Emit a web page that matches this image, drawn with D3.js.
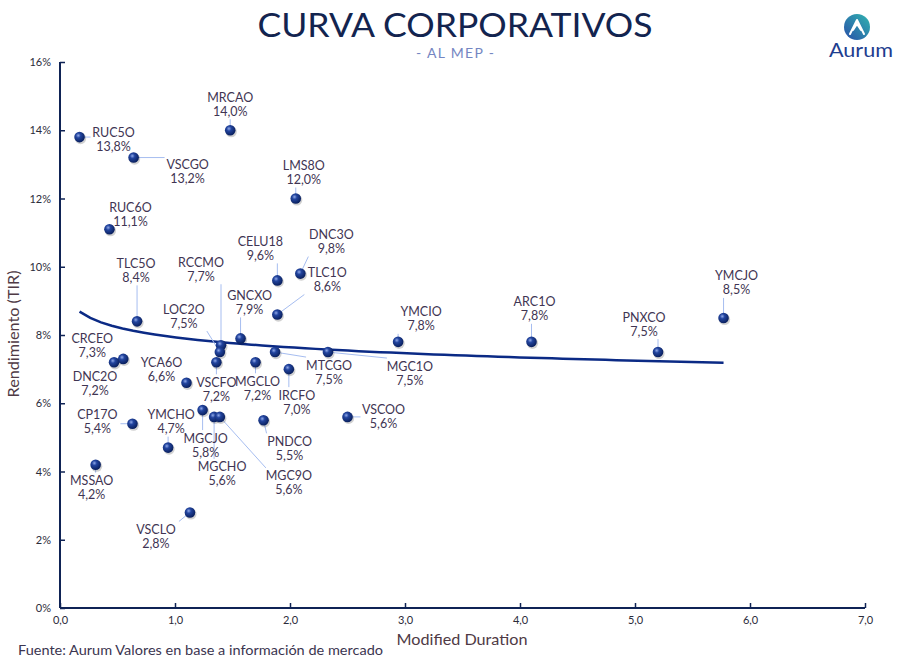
<!DOCTYPE html>
<html><head><meta charset="utf-8">
<script src="https://cdnjs.cloudflare.com/ajax/libs/d3/7.8.5/d3.min.js"></script>
<style>
html,body{margin:0;padding:0;background:#fff;}
svg{display:block;font-family:Lato,"Noto Sans",sans-serif;}
</style></head>
<body>
<script>
// ---- DATA ----
const names = ["RUC5O","VSCGO","MRCAO","LMS8O","RUC6O","CELU18","DNC3O","TLC1O","TLC5O","RCCMO","LOC2O","GNCXO","CRCEO","DNC2O","YCA6O","VSCFO","MGCLO","MTCGO","IRCFO","MGC1O","VSCOO","YMCIO","ARC1O","PNXCO","YMCJO","CP17O","YMCHO","MGCJO","MGCHO","MGC9O","PNDCO","MSSAO","VSCLO"];
const duration = [0.17,0.64,1.48,2.05,0.43,1.89,2.09,1.89,0.67,1.40,1.39,1.57,0.55,0.47,1.10,1.36,1.70,1.87,1.99,2.33,2.50,2.94,4.10,5.20,5.77,0.63,0.94,1.24,1.34,1.39,1.77,0.31,1.13];
const tir = [13.8,13.2,14.0,12.0,11.1,9.6,9.8,8.6,8.4,7.7,7.5,7.9,7.3,7.2,6.6,7.2,7.2,7.5,7.0,7.5,5.6,7.8,7.8,7.5,8.5,5.4,4.7,5.8,5.6,5.6,5.5,4.2,2.8];
const yTicks = [0,2,4,6,8,10,12,14,16];
const xTicks = [0,1,2,3,4,5,6,7];

// label placement (pixel offsets of label centre from its marker) - layout only
const labelOffsets = {
 RUC5O:[34,-5],VSCGO:[54,7],MRCAO:[0,-33],LMS8O:[8,-33],RUC6O:[21,-22],CELU18:[-17,-39],
 DNC3O:[31,-39],TLC1O:[50,-42],TLC5O:[-1,-58],RCCMO:[-20,-83],LOC2O:[-36,-43],GNCXO:[9,-43],
 CRCEO:[-31,-20],DNC2O:[-19,14],YCA6O:[-25,-20],VSCFO:[0,20],MGCLO:[2,19],MTCGO:[54,13],
 IRCFO:[8,26],MGC1O:[82,14],VSCOO:[36,-7],YMCIO:[23,-30],ARC1O:[3,-40],PNXCO:[-14,-35],
 YMCJO:[13,-42],CP17O:[-35,-9],YMCHO:[3,-33],MGCJO:[3,28],MGCHO:[8,50],MGC9O:[69,59],
 PNDCO:[26,21],MSSAO:[-4,16],VSCLO:[-34,17]
};

const W=910,H=661;
const svg=d3.select("body").append("svg").attr("width",W).attr("height",H);
const defs=svg.append("defs");
const rg=defs.append("radialGradient").attr("id","ball").attr("cx","38%").attr("cy","35%").attr("r","65%");
rg.append("stop").attr("offset","0%").attr("stop-color","#8fa8e8");
rg.append("stop").attr("offset","35%").attr("stop-color","#22449e");
rg.append("stop").attr("offset","100%").attr("stop-color","#0a205e");
const lg=defs.append("linearGradient").attr("id","logo").attr("x1","0%").attr("y1","100%").attr("x2","100%").attr("y2","0%");
lg.append("stop").attr("offset","0%").attr("stop-color","#2a4fa8");
lg.append("stop").attr("offset","100%").attr("stop-color","#2fb5b0");

const x=d3.scaleLinear().domain([0,7]).range([60,865]);
const y=d3.scaleLinear().domain([0,16]).range([608,62]);
const navy="#0f2355";

// Title
svg.append("text").attr("x",455).attr("y",37).attr("text-anchor","middle")
  .attr("font-size",32.5).attr("fill","#13244f").attr("textLength",395).attr("lengthAdjust","spacingAndGlyphs")
  .attr("font-family","Lato, 'Noto Sans', sans-serif").text("CURVA CORPORATIVOS");
svg.append("text").attr("x",455).attr("y",58).attr("text-anchor","middle")
  .attr("font-size",14).attr("fill","#7486c2").attr("textLength",78).attr("lengthAdjust","spacing").text("- AL MEP -");

// Logo
svg.append("circle").attr("cx",857).attr("cy",27).attr("r",13).attr("fill","url(#logo)");
svg.append("path").attr("d","M850,34 L857,20 L864,34 M853,30 L857,24 L861,30")
  .attr("fill","none").attr("stroke","#fff").attr("stroke-width",2).attr("stroke-linejoin","round").attr("stroke-linecap","round");
svg.append("text").attr("x",861).attr("y",57).attr("text-anchor","middle").attr("font-size",20)
  .attr("fill","#1d3d8f").attr("textLength",64).attr("lengthAdjust","spacingAndGlyphs").text("Aurum");

// Axes
const gy=svg.append("g").attr("transform","translate(60,0)")
  .call(d3.axisLeft(y).tickValues(yTicks).tickFormat(d=>d+"%").tickSize(-5).tickPadding(9));
const gx=svg.append("g").attr("transform","translate(0,608)")
  .call(d3.axisBottom(x).tickValues(xTicks).tickFormat(d=>d.toFixed(1).replace(".",",")).tickSize(-5).tickPadding(8));
[gx,gy].forEach(g=>{
  g.select(".domain").attr("stroke",navy).attr("stroke-width",2);
  g.selectAll(".tick line").attr("stroke",navy).attr("stroke-width",1.5);
  g.selectAll(".tick text").attr("fill","#2b2b3a").attr("font-size",11).attr("font-family","'Liberation Sans Narrow', Lato, sans-serif");
});
gx.select(".domain").attr("d","M60,0H865");
gy.select(".domain").attr("d","M0,608V62");

svg.append("text").attr("transform","translate(19,334) rotate(-90)").attr("text-anchor","middle")
  .attr("font-size",14.5).attr("fill","#4f3a45").attr("textLength",127).attr("lengthAdjust","spacingAndGlyphs").text("Rendimiento (TIR)");
svg.append("text").attr("x",462).attr("y",645).attr("text-anchor","middle")
  .attr("font-size",15).attr("fill","#4f3a45").attr("textLength",131).attr("lengthAdjust","spacingAndGlyphs").text("Modified Duration");
svg.append("text").attr("x",18).attr("y",655).attr("font-size",13)
  .attr("fill","#3b3550").attr("textLength",365).attr("lengthAdjust","spacingAndGlyphs").text("Fuente: Aurum Valores en base a información de mercado");

// Logarithmic trend line (least squares on ln(duration))
const lx=duration.map(Math.log);
const mx=d3.mean(lx), my=d3.mean(tir);
const b=d3.sum(lx.map((v,i)=>(v-mx)*(tir[i]-my)))/d3.sum(lx.map(v=>(v-mx)*(v-mx)));
const a=my-b*mx;
const dMin=d3.min(duration), dMax=d3.max(duration);
const trendX=d3.range(0,61).map(i=>dMin+(dMax-dMin)*i/60);
svg.append("path").datum(trendX)
  .attr("d",d3.line().x(d=>x(d)).y(d=>y(a+b*Math.log(d))))
  .attr("fill","none").attr("stroke","#0b2a85").attr("stroke-width",2.5);

// points
const pts=names.map((nm,i)=>({nm,d:duration[i],t:tir[i],px:x(duration[i]),py:y(tir[i]),off:labelOffsets[nm]}));

// leader lines
const lbw=46, lbTop=-8, lbBot=22;
pts.forEach(p=>{
  const lx0=p.px+p.off[0], ly0=p.py+p.off[1];
  const bx0=lx0-lbw/2,bx1=lx0+lbw/2,by0=ly0+lbTop,by1=ly0+lbBot;
  const cx=Math.max(bx0,Math.min(p.px,bx1)), cy=Math.max(by0,Math.min(p.py,by1));
  const dist=Math.hypot(cx-p.px,cy-p.py);
  if(dist>7){
    svg.append("line").attr("x1",p.px).attr("y1",p.py).attr("x2",cx).attr("y2",cy)
      .attr("stroke","#a6bdf0").attr("stroke-width",1);
  }
});

// markers
svg.append("g").selectAll("circle").data(pts).join("circle")
  .attr("cx",p=>p.px+1).attr("cy",p=>p.py+1.5).attr("r",5.6).attr("fill","rgba(0,0,0,0.18)");
svg.append("g").selectAll("circle").data(pts).join("circle")
  .attr("cx",p=>p.px).attr("cy",p=>p.py).attr("r",5.3).attr("fill","url(#ball)");

// labels
const lab=svg.append("g").attr("font-size",12.5).attr("fill","#3f3553").attr("text-anchor","middle");
pts.forEach(p=>{
  const t=lab.append("text").attr("x",p.px+p.off[0]).attr("y",p.py+p.off[1]+4.5);
  t.append("tspan").attr("x",p.px+p.off[0]).text(p.nm);
  t.append("tspan").attr("x",p.px+p.off[0]).attr("dy",14).text(p.t.toFixed(1).replace(".",",")+"%");
});
</script>
</body></html>
